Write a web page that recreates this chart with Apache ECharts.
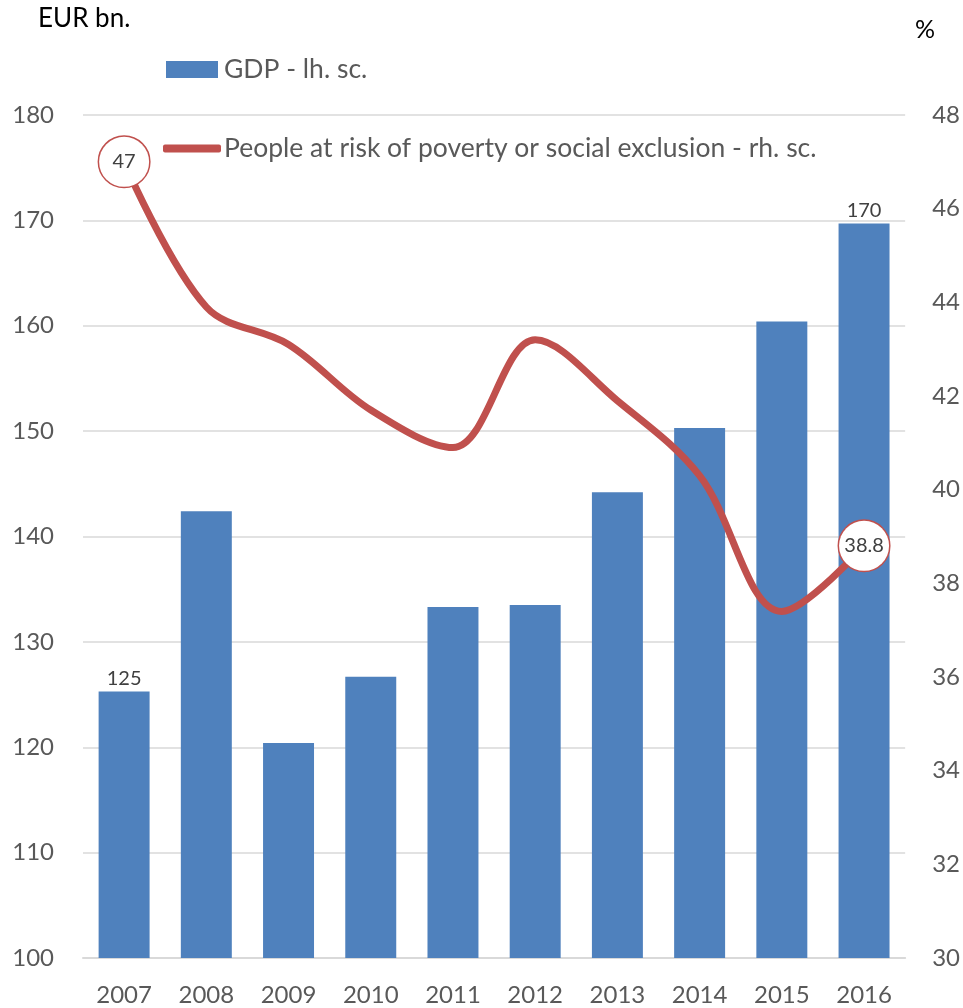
<!DOCTYPE html>
<html>
<head>
<meta charset="utf-8">
<script src="https://cdn.jsdelivr.net/npm/echarts@6/dist/echarts.min.js"></script>
<style>
  html, body { margin: 0; padding: 0; background: #fff; }
  #chart { width: 963px; height: 1008px; }
</style>
</head>
<body>
<div id="chart"></div>
<script>
// Years on the category axis
const years = ['2007', '2008', '2009', '2010', '2011', '2012', '2013', '2014', '2015', '2016'];
// GDP, EUR bn (left scale)
const gdp = [125.3, 142.4, 120.4, 126.7, 133.3, 133.5, 144.2, 150.3, 160.4, 169.7];
// People at risk of poverty or social exclusion, % (right scale)
const poverty = [47.0, 43.9, 43.1, 41.7, 40.9, 43.2, 41.9, 40.3, 37.4, 38.8];
// Points whose values are written on the chart
const gdpLabelled = [0, 9];
const povertyLabelled = [0, 9];

const FONT = 'Lato, "Open Sans", sans-serif';
const GREY = '#595959';
const BLUE = '#4F81BD';
const RED = '#C0504D';

const chart = echarts.init(document.getElementById('chart'));

const gdpData = gdp.map((v, i) => gdpLabelled.includes(i) ? {
  value: v,
  label: {
    show: true, position: 'top', distance: 3,
    formatter: () => Math.round(v).toString(),
    fontFamily: FONT, fontSize: 20, color: '#404040'
  }
} : v);

const povertyData = poverty.map((v, i) => povertyLabelled.includes(i) ? {
  value: v,
  symbol: 'circle',
  symbolSize: 2,
  label: {
    show: true, position: 'inside',
    formatter: () => String(v % 1 === 0 ? v.toFixed(0) : v),
    fontFamily: FONT, fontSize: 20, color: '#404040',
    backgroundColor: '#fff', borderColor: RED, borderWidth: 1.5,
    width: 50, height: 50, lineHeight: 50, borderRadius: 26, align: 'center',
    padding: 0
  }
} : { value: v, symbol: 'none' });

chart.setOption({
  animation: false,
  textStyle: { fontFamily: FONT },
  grid: { left: 83, right: 57, top: 115, bottom: 50 },
  graphic: [
    { type: 'text', left: 38, top: 6, style: { text: 'EUR bn.', font: '26px ' + FONT, fill: '#000' } },
    { type: 'text', left: 915, top: 17, style: { text: '%', font: '25px ' + FONT, fill: '#000' } }
  ],
  legend: [
    {
      data: ['GDP - lh. sc.'],
      left: 166, top: 56, padding: 0,
      itemWidth: 52, itemHeight: 17, itemGap: 6,
      icon: 'rect',
      textStyle: { fontFamily: FONT, fontSize: 26.5, color: GREY, padding: [0, 0, 0, 1] }
    },
    {
      data: ['People at risk of poverty or social exclusion - rh. sc.'],
      left: 163, top: 135, padding: 0,
      itemWidth: 58, itemHeight: 8,
      icon: 'roundRect',
      textStyle: { fontFamily: FONT, fontSize: 26.5, color: GREY, padding: [0, 0, 0, -2] }
    }
  ],
  xAxis: {
    type: 'category',
    data: years,
    axisTick: { show: false },
    axisLine: { lineStyle: { color: '#D9D9D9', width: 2 } },
    axisLabel: { fontFamily: FONT, fontSize: 24, color: GREY, margin: 25 }
  },
  yAxis: [
    {
      type: 'value', min: 100, max: 180, interval: 10,
      axisLine: { show: false }, axisTick: { show: false },
      splitLine: { lineStyle: { color: '#D9D9D9', width: 1.5 } },
      axisLabel: { fontFamily: FONT, fontSize: 24, color: GREY, margin: 29 }
    },
    {
      type: 'value', min: 30, max: 48, interval: 2,
      axisLine: { show: false }, axisTick: { show: false },
      splitLine: { show: false },
      axisLabel: { fontFamily: FONT, fontSize: 24, color: GREY, margin: 27 }
    }
  ],
  series: [
    {
      name: 'GDP - lh. sc.',
      type: 'bar',
      yAxisIndex: 0,
      data: gdpData,
      barWidth: '62%',
      itemStyle: { color: BLUE }
    },
    {
      name: 'People at risk of poverty or social exclusion - rh. sc.',
      type: 'line',
      yAxisIndex: 1,
      data: povertyData,
      smooth: 0.35,
      showSymbol: true,
      z: 5,
      lineStyle: { color: RED, width: 7, cap: 'round', join: 'round' },
      itemStyle: { color: RED }
    }
  ]
});
</script>
</body>
</html>
